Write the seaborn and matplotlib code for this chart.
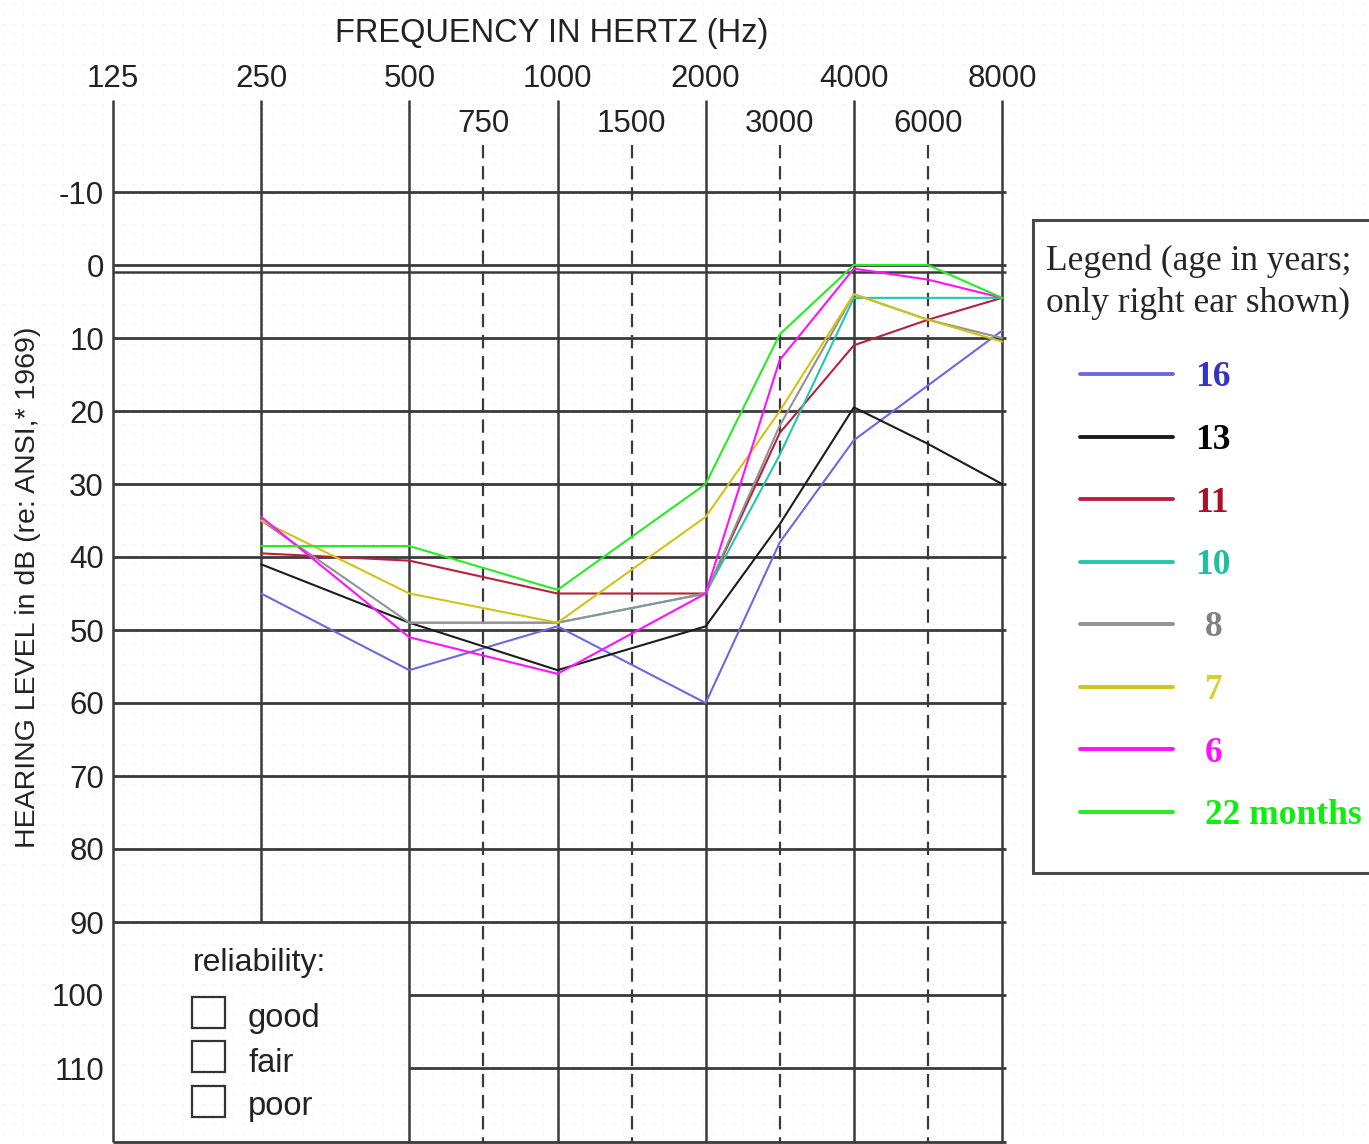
import numpy as np
import pandas as pd
import matplotlib
matplotlib.use("Agg")
import matplotlib.pyplot as plt
import seaborn as sns
from matplotlib.patches import Rectangle
from matplotlib.lines import Line2D

# audiogram readings (right ear, dB HL)
freqs = [250, 500, 1000, 2000, 3000, 4000, 6000, 8000]
age_16 = [45, 55.5, 49.5, 60, 38, 24, 16.5, 9]
age_13 = [41, 49, 55.5, 49.5, 35.5, 19.5, 24.5, 30]
age_11 = [39.5, 40.5, 45, 45, 23, 11, 7.5, 4.5]
age_10 = [np.nan, 49, 49, 45, 26, 4.5, 4.5, 4.5]
age_8 = [35, 49, 49, 45, 22, 4, 7.5, 10]
age_7 = [35, 45, 49, 34.5, 20, 4, 7.5, 10.5]
age_6 = [34.5, 51, 56, 45, 13, 0.5, 2, 4.5]
age_22m = [38.5, 38.5, 44.5, 30, 9.5, 0, 0, 4.5]

ages = ["16", "13", "11", "10", "8", "7", "6", "22 months"]
series = [age_16, age_13, age_11, age_10, age_8, age_7, age_6, age_22m]
line_colors = ["#6a6ae0", "#1c1c1c", "#b8203c", "#22c8a8",
               "#929292", "#d4c214", "#ff10ff", "#22ee22"]
text_colors = ["#3434c4", "#000000", "#a8102c", "#1cc09c",
               "#808080", "#dccc30", "#ff10ff", "#10ee10"]

octave_freqs = [125, 250, 500, 1000, 2000, 4000, 8000]
half_freqs = [750, 1500, 3000, 6000]
db_ticks = list(range(-10, 120, 10))

df = pd.DataFrame({
    "freq": freqs * len(ages),
    "db": [v for s in series for v in s],
    "age": [a for a in ages for _ in freqs],
}).dropna()

# audiogram frequency axis: octaves evenly spaced, half-octaves at midpoints
scale_f = [62.5, 125, 250, 500, 750, 1000, 1500, 2000, 3000, 4000, 6000, 8000, 16000]
scale_p = [-1, 0, 1, 2, 2.5, 3, 3.5, 4, 4.5, 5, 5.5, 6, 7]

def f_to_pos(f):
    return np.interp(f, scale_f, scale_p)

def pos_to_f(p):
    return np.interp(p, scale_p, scale_f)

W, H = 1369, 1144
def fx(x):
    return x / W
def fy(y):
    return 1 - y / H

# pixel mapping of the scan: 125 Hz at x=113, 148.17 px per octave;
# 0 dB at y=265, 7.3 px per dB
PX_OCT, X0 = 148.17, 113
PX_DB, Y0 = 7.3, 265
ax_l, ax_r, ax_t, ax_b = 113, 1015, 97, 1144

sns.set_style("white")
plt.rcParams["font.family"] = ["Liberation Sans", "DejaVu Sans"]

fig = plt.figure(figsize=(W / 100, H / 100), dpi=100)
fig.patch.set_facecolor("white")

# dotted scan texture
bg = np.ones((H, W))
bg[4::10, 3::10] = 0.86
fig.figimage(bg, xo=0, yo=0, cmap="gray", vmin=0, vmax=1, zorder=-5)

ax = fig.add_axes([fx(ax_l), fy(ax_b), (ax_r - ax_l) / W, (ax_b - ax_t) / H])
ax.set_zorder(1)
ax.patch.set_alpha(0)
ax.set_xscale("function", functions=(f_to_pos, pos_to_f))
ax.set_xlim(125, pos_to_f((ax_r - X0) / PX_OCT))
ax.set_ylim((ax_b - Y0) / PX_DB, (ax_t - Y0) / PX_DB)
for sp in ax.spines.values():
    sp.set_visible(False)

grid_c = "#3a3a3a"
top_db = (100 - Y0) / PX_DB
bot_db = (1142 - Y0) / PX_DB
x_end = pos_to_f(6 + 4 / PX_OCT)

# horizontal grid
ax.hlines(db_ticks[:11], 125, x_end, color=grid_c, lw=2.0, zorder=1)
ax.hlines([1.0], 125, x_end, color=grid_c, lw=1.8, zorder=1)
ax.hlines([100, 110], 500, x_end, color=grid_c, lw=2.0, zorder=1)
ax.hlines([bot_db], 125, x_end, color=grid_c, lw=2.0, zorder=1, clip_on=False)

# vertical grid
ax.vlines([125, 500, 1000, 2000, 4000, 8000], top_db, bot_db, color=grid_c,
          lw=1.8, zorder=1, clip_on=False)
ax.vlines([250], top_db, 90, color=grid_c, lw=1.8, zorder=1)
ax.vlines(half_freqs, (145 - Y0) / PX_DB, bot_db, color=grid_c, lw=1.6,
          linestyles=(0, (6, 3.5)), zorder=1, clip_on=False)

sns.lineplot(data=df, x="freq", y="db", hue="age", hue_order=ages,
             palette=dict(zip(ages, line_colors)), estimator=None, sort=False,
             lw=1.5, legend=False, ax=ax, zorder=3)
ax.set_xlabel("")
ax.set_ylabel("")

# frequency labels on top, dB labels on the left
ax.set_xticks(octave_freqs, labels=[str(f) for f in octave_freqs])
ax.set_xticks(half_freqs, labels=[str(f) for f in half_freqs], minor=True)
ax.tick_params(axis="x", which="major", top=True, bottom=False, labeltop=True,
               labelbottom=False, length=0, pad=2, labelsize=22.5,
               labelcolor="#222222")
ax.tick_params(axis="x", which="minor", top=True, bottom=False, labeltop=True,
               labelbottom=False, length=0, pad=-30, labelsize=22.5,
               labelcolor="#222222")
ax.set_yticks(db_ticks, labels=[str(d) for d in db_ticks])
ax.tick_params(axis="y", length=0, pad=6.5, labelsize=22.5, labelcolor="#222222")

fig.text(fx(552), fy(42), "FREQUENCY IN HERTZ (Hz)", ha="center",
         va="baseline", fontsize=23.5, color="#222222")
fig.text(fx(28), fy(587), "HEARING LEVEL in dB (re: ANSI,* 1969)",
         rotation=90, ha="center", va="center", fontsize=20.5, color="#222222")

# reliability box
fig.text(fx(193), fy(971), "reliability:", ha="left", va="baseline",
         fontsize=23, color="#222222")
for y_top, lab, base in [(997, "good", 1027), (1041, "fair", 1072),
                         (1086, "poor", 1115)]:
    fig.add_artist(Rectangle((fx(192), fy(y_top + 31)), 33 / W, 31 / H,
                             transform=fig.transFigure, fill=False,
                             ec="#333333", lw=1.6))
    fig.text(fx(248), fy(base), lab, ha="left", va="baseline", fontsize=23.5,
             color="#222222")

# legend panel
fig.add_artist(Rectangle((fx(1033), fy(873)), (1400 - 1033) / W, (873 - 220) / H,
                         transform=fig.transFigure, fc="white", ec="#4a4a4a",
                         lw=2.2, zorder=2))
serif = ["Liberation Serif", "DejaVu Serif"]
fig.text(fx(1046), fy(270), "Legend (age in years;", ha="left", va="baseline",
         fontsize=25.5, family=serif, zorder=3)
fig.text(fx(1046), fy(312), "only right ear shown)", ha="left", va="baseline",
         fontsize=25.5, family=serif, zorder=3)
for i, (age, lc, tc) in enumerate(zip(ages, line_colors, text_colors)):
    y = 374 + i * 62.5
    fig.add_artist(Line2D([fx(1080), fx(1173)], [fy(y), fy(y)],
                          transform=fig.transFigure, color=lc, lw=2.8, zorder=3))
    tx = 1195 if len(age) == 2 else 1205
    fig.text(fx(tx), fy(y + 4), age, ha="left", va="center", fontsize=25.5,
             family=serif, weight="bold", color=tc, zorder=3)

fig.savefig("out.png", dpi=100)
